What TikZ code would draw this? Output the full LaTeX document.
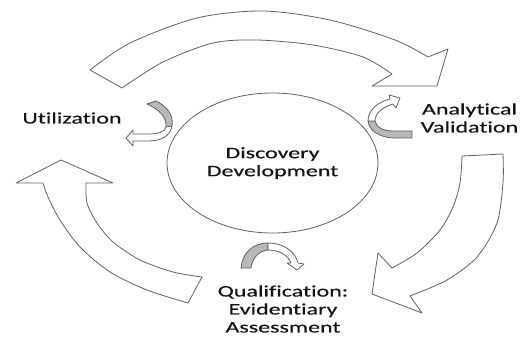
\documentclass[tikz,border=0pt]{standalone}
\usepackage{fontspec}
\setmainfont{Carlito}[FakeStretch=1.5, FakeBold=0.4, Ligatures=NoCommon]
\usetikzlibrary{shapes.geometric}
\begin{document}
\begin{tikzpicture}[x=1pt,y=-1pt,
  outline/.style={draw=black!62, line width=0.8pt, line join=round},
  bigarrow/.style={outline, fill=white},
  backside/.style={outline, fill=black!28},
  frontside/.style={outline, fill=white},
  txt/.style={font=\fontsize{16}{18}\selectfont, text=black!92, align=center, inner sep=0pt},
]
\useasboundingbox (0,0) rectangle (523,337);

% central stage
\node[ellipse, outline, fill=white, minimum width=211pt, minimum height=140pt, txt] (core) at (272.5,163) {Discovery\\Development};

% stage labels
\node[txt] (util) at (72,118) {Utilization};
\node[txt] (anval) at (469.5,118) {Analytical\\Validation};
\node[txt] (qual) at (283,309) {Qualification:\\Evidentiary\\Assessment};

% large cycle arrow across the top
\draw[bigarrow]
  plot[smooth] coordinates {(90,70) (130,43) (197,18) (263,11) (330,20) (395,40) (428,57)}
  -- (448,49) -- (437,86) -- (372,86) -- (392,74)
  -- plot[smooth] coordinates {(392,74) (363,57) (313,45) (257,40) (213,43) (163,62) (122,88)}
  -- cycle;

% large cycle arrow down the right side
\draw[bigarrow]
  (462,156) -- (503,154)
  -- plot[smooth] coordinates {(503,154) (503,183) (497,223) (477,257) (447,280) (410,296)}
  -- (422,313) -- (372,294) -- (378,253) -- (392,268)
  -- plot[smooth] coordinates {(392,268) (417,253) (440,230) (453,207) (460,183) (462,156)}
  -- cycle;

% large cycle arrow up the left side
\draw[bigarrow]
  (188,303)
  -- plot[smooth] coordinates {(188,303) (147,290) (110,272) (80,247) (60,220) (48,197) (43,183)}
  -- (16,183) -- (61,160) -- (113,183) -- (86,183)
  -- plot[smooth] coordinates {(86,183) (87,203) (97,223) (113,242) (140,260) (173,272) (202,277)}
  -- cycle;

% small turning arrow beside Utilization
\draw[backside] (147,104) -- (156,101) .. controls (166,106) and (174,114) .. (172,126)
  -- (166,127) .. controls (167,118) and (160,110) .. (147,104) -- cycle;
\draw[frontside] (172,126) .. controls (170,137) and (160,141) .. (148,141) -- (133,141)
  -- (133,146) -- (126,138) -- (133,130) -- (133,134) -- (148,134)
  .. controls (158,134) and (165,132) .. (166,127) -- cycle;

% small turning arrow beside Analytical Validation
\draw[backside] (412,131) -- (412,138) -- (393,138) .. controls (378,137) and (369,130) .. (368,121)
  -- (375,121) .. controls (376,127) and (383,131) .. (393,131) -- cycle;
\draw[frontside] (368,121) .. controls (368,110) and (378,102) .. (390,99)
  -- (389,95) -- (400,98) -- (396,108) -- (393,104)
  .. controls (383,107) and (375,113) .. (375,121) -- cycle;

% small turning arrow above Qualification
\draw[backside] (241,268) -- (251,268) .. controls (252,259) and (258,251) .. (268,250)
  -- (268,243) .. controls (252,243) and (242,254) .. (241,268) -- cycle;
\draw[frontside] (268,243) .. controls (283,243) and (295,251) .. (298,263)
  -- (304,264) -- (297,270) -- (287,263) -- (291,263)
  .. controls (288,255) and (279,250) .. (268,250) -- cycle;
\end{tikzpicture}
\end{document}
